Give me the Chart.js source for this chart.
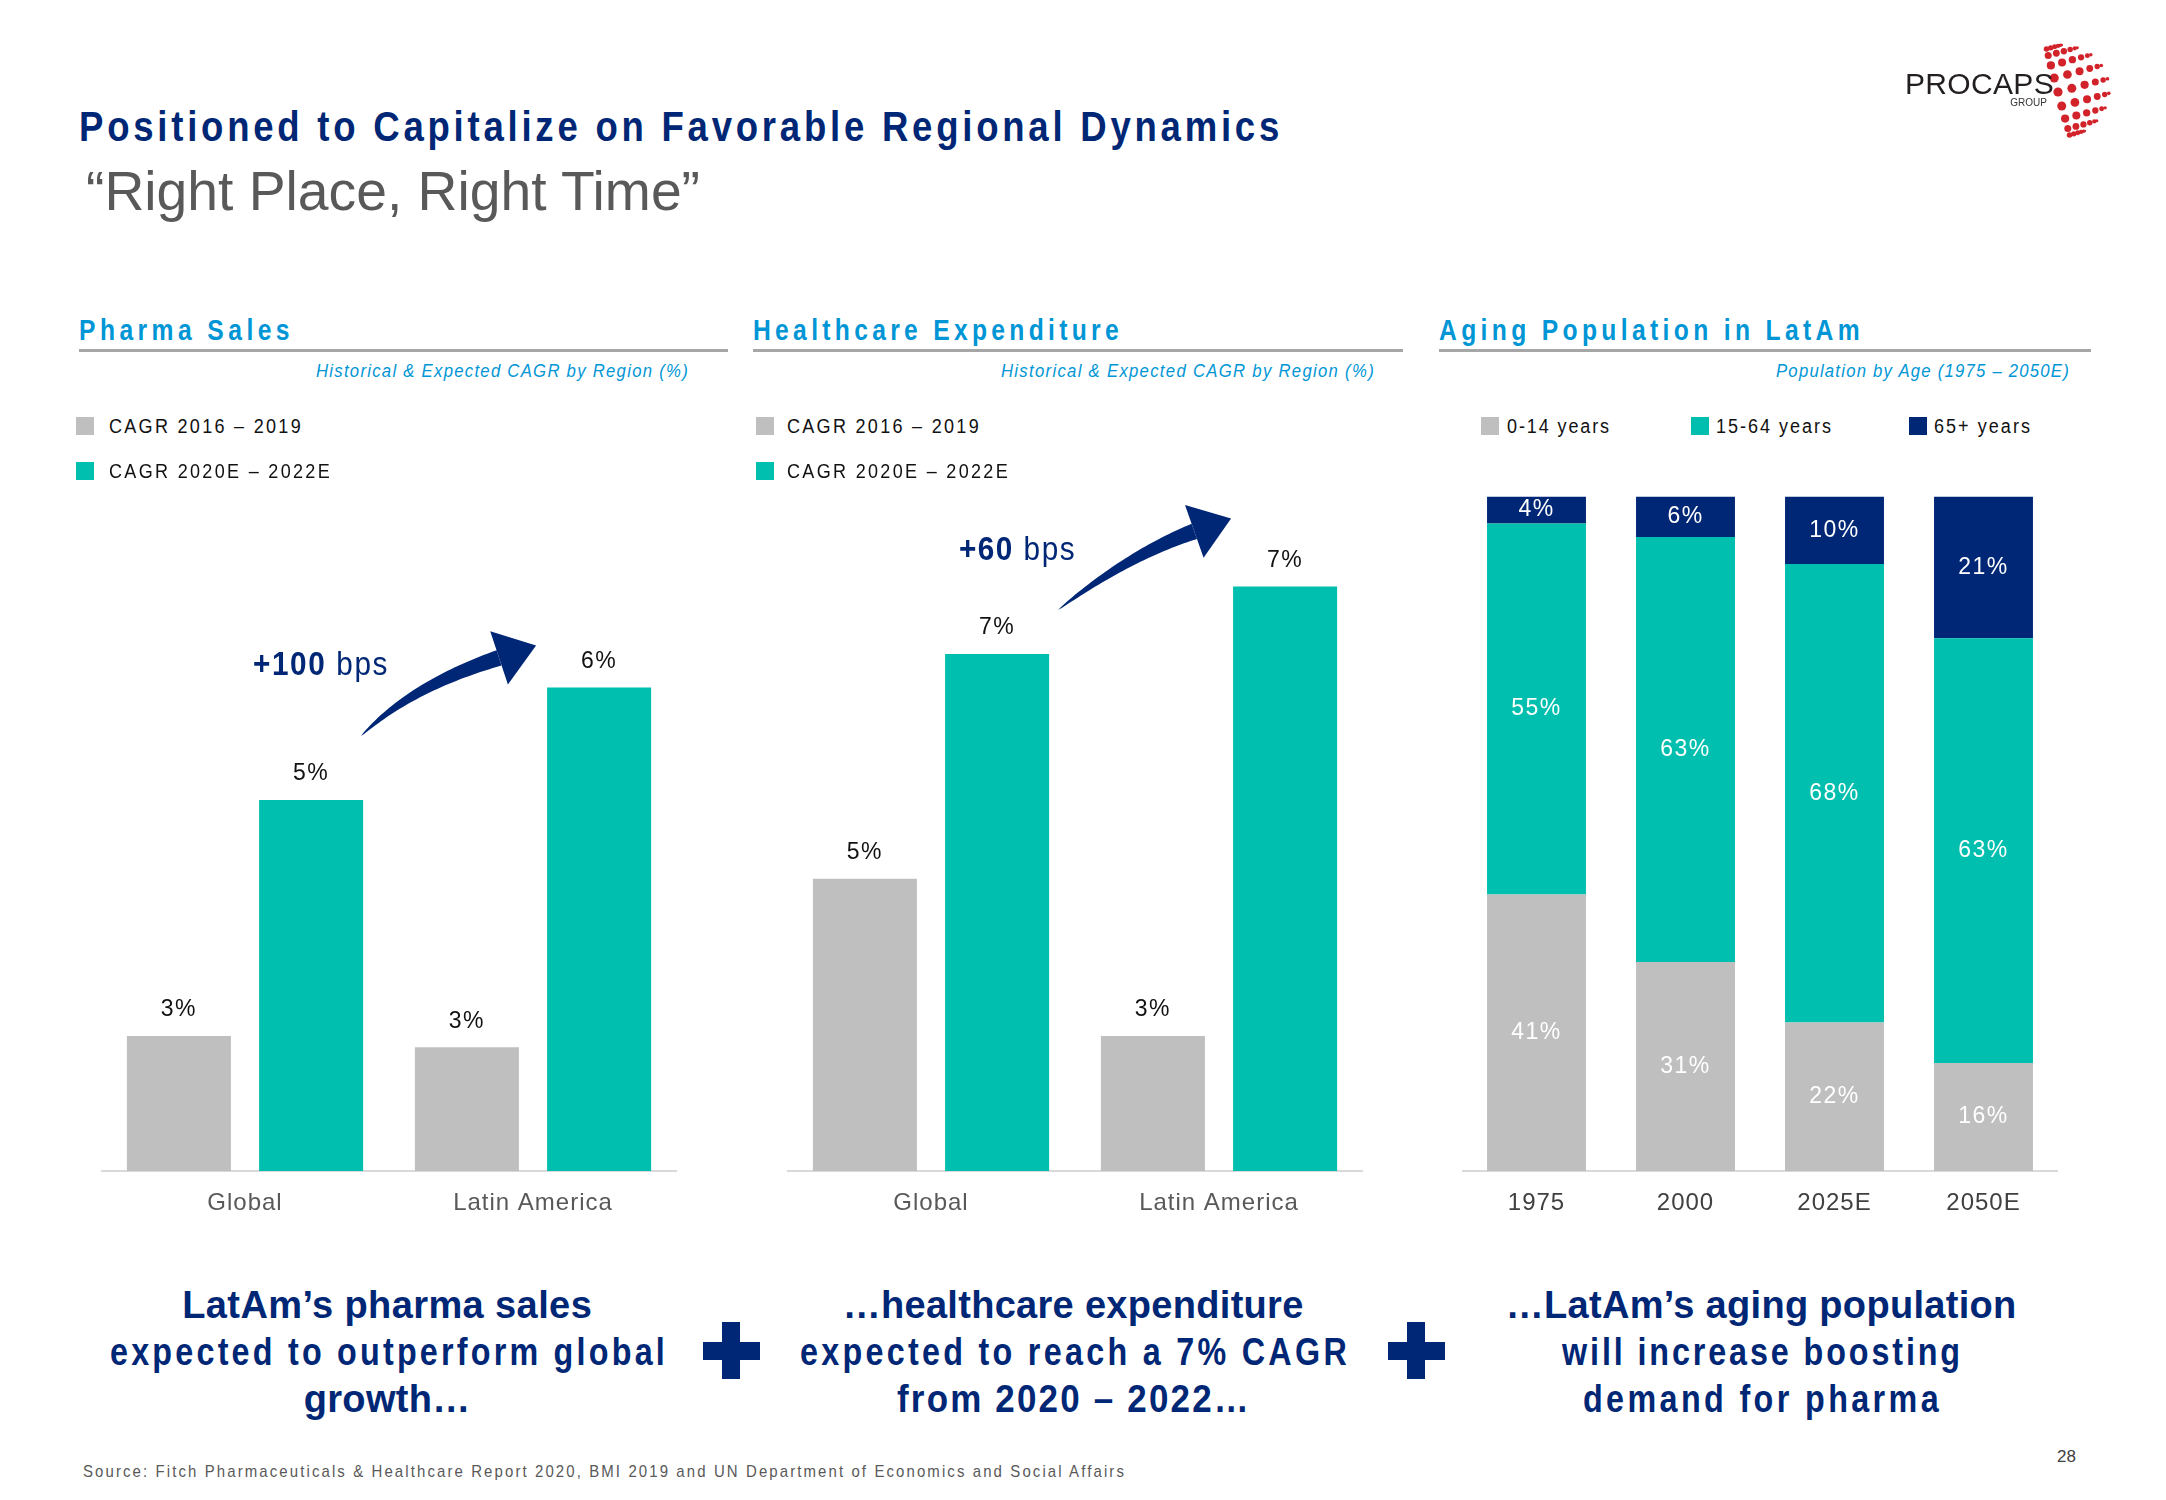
<!DOCTYPE html>
<html>
<head>
<meta charset="utf-8">
<script src="https://cdn.jsdelivr.net/npm/chart.js@4.4.1/dist/chart.umd.min.js"></script>
<style>
html, body { margin: 0; padding: 0; background: #fff; }
#slide { position: relative; width: 2166px; height: 1500px; overflow: hidden; }
canvas { position: absolute; }
.sq { position: absolute; width: 18px; height: 18px; }
.rule { position: absolute; height: 3px; background: #a6a6a6; }
.plus { position: absolute; background: #002776; }
</style>
</head>
<body>
<div id="slide">
  <canvas id="pharma" width="576" height="751" style="left:101px;top:480px"></canvas>
  <canvas id="health" width="576" height="751" style="left:787px;top:480px"></canvas>
  <canvas id="aging" width="596" height="751" style="left:1462px;top:480px"></canvas>
  <canvas id="logo" width="100" height="130" style="left:2020px;top:25px"></canvas>
</div>
<script>
// data
var regions = ['Global', 'Latin America'];
var cagrSeries = ['CAGR 2016 – 2019', 'CAGR 2020E – 2022E'];
var pharmaHist = [2.9, 2.8];
var pharmaExp = [5.0, 6.0];
var healthHist = [4.6, 3.2];
var healthExp = [6.6, 7.2];

var years = ['1975', '2000', '2025E', '2050E'];
var ageGroups = ['0-14 years', '15-64 years', '65+ years'];
var age0to14 = [41, 31, 22, 16];
var age15to64 = [55, 63, 68, 63];
var age65plus = [4, 6, 10, 21];

var FONT = "'Liberation Sans', Arial, sans-serif";
var GRAY = '#bfbfbf', TEAL = '#00bfae', NAVY = '#002776', BLUE = '#0096d6';

var slide = document.getElementById('slide');

// text placed by baseline; o.w = target width, o.c = horizontal squeeze (narrow font look)
function txt(s, x, base, size, o) {
  o = o || {};
  var d = document.createElement('div');
  if (o.html) d.innerHTML = s; else d.textContent = s;
  d.style.cssText = 'position:absolute;white-space:nowrap;line-height:1;font-family:' + FONT +
    ';font-size:' + size + 'px;font-weight:' + (o.bold ? 'bold' : 'normal') +
    ';font-style:' + (o.italic ? 'italic' : 'normal') + ';color:' + (o.color || '#111') +
    ';top:' + (base - 0.8465 * size) + 'px;left:0px;transform-origin:0 0';
  slide.appendChild(d);
  var w0 = d.getBoundingClientRect().width, n = d.textContent.length;
  var c = o.c || 1, sp = 0, w = w0;
  if (o.fit) { c = o.w / w0; w = o.w; }
  else if (o.w) {
    sp = (o.w - c * w0) / n;
    d.style.letterSpacing = (sp / c) + 'px';
    w = o.w;
  }
  if (c !== 1) d.style.transform = 'scaleX(' + c + ')';
  var left = x;
  if (o.align === 'c') left = x - w / 2 + sp / 2;
  if (o.align === 'r') left = x - w + sp;
  d.style.left = left + 'px';
  return d;
}
function box(cls, x, y, w, h, color) {
  var d = document.createElement('div');
  d.className = cls;
  d.style.left = x + 'px'; d.style.top = y + 'px';
  if (w) d.style.width = w + 'px';
  if (h) d.style.height = h + 'px';
  if (color) d.style.background = color;
  slide.appendChild(d);
}

// header
txt('Positioned to Capitalize on Favorable Regional Dynamics', 79, 141, 43, {bold: true, color: NAVY, w: 1204, c: 0.85});
txt('“Right Place, Right Time”', 86, 211, 55, {color: '#595959', w: 614, fit: true});

// section titles
txt('Pharma Sales', 79, 341, 29, {bold: true, color: BLUE, w: 215, c: 0.85});
txt('Healthcare Expenditure', 753, 341, 29, {bold: true, color: BLUE, w: 370, c: 0.85});
txt('Aging Population in LatAm', 1439, 341, 29, {bold: true, color: BLUE, w: 425, c: 0.85});
box('rule', 79, 349, 649);
box('rule', 753, 349, 650);
box('rule', 1439, 349, 652);
txt('Historical & Expected CAGR by Region (%)', 688, 377, 19, {italic: true, color: BLUE, w: 373, align: 'r', c: 0.88});
txt('Historical & Expected CAGR by Region (%)', 1374, 377, 19, {italic: true, color: BLUE, w: 374, align: 'r', c: 0.88});
txt('Population by Age (1975 – 2050E)', 2069, 377, 19, {italic: true, color: BLUE, w: 294, align: 'r', c: 0.88});

// legends
[[76, 109], [756, 787]].forEach(function (p) {
  box('sq', p[0], 417, 0, 0, GRAY);
  box('sq', p[0], 462, 0, 0, TEAL);
  txt(cagrSeries[0], p[1], 433, 20, {w: 194, c: 0.9});
  txt(cagrSeries[1], p[1], 478, 20, {w: 223, c: 0.9});
});
var ageLeg = [[1481, 1507, 104, GRAY], [1691, 1716, 117, TEAL], [1909, 1934, 98, NAVY]];
ageLeg.forEach(function (p, i) {
  box('sq', p[0], 417, 0, 0, p[3]);
  txt(ageGroups[i], p[1], 433, 20, {w: p[2], c: 0.9});
});

// bps call-outs
txt('<b>+100</b> bps', 253, 675, 33, {html: true, color: NAVY, w: 136, c: 0.9});
txt('<b>+60</b> bps', 959, 560, 33, {html: true, color: NAVY, w: 117, c: 0.9});

// bottom statements (second/third lines use the narrow, tracked look)
var blocks = [
  [387, ['LatAm’s pharma sales', 'expected to outperform global', 'growth…'], [410, 558, 167], [1, 0.85, 1]],
  [1073, ['…healthcare expenditure', 'expected to reach a 7% CAGR', 'from 2020 – 2022…'], [461, 550, 354], [1, 0.85, 0.92]],
  [1761, ['…LatAm’s aging population', 'will increase boosting', 'demand for pharma'], [511, 401, 359], [1, 0.85, 0.85]]
];
blocks.forEach(function (b) {
  b[1].forEach(function (line, i) {
    txt(line, b[0], 1318 + i * 47, 38, {bold: true, color: NAVY, w: b[2][i], align: 'c', c: b[3][i]});
  });
});
[731, 1416].forEach(function (cx) {
  box('plus', cx - 9, 1322, 18, 57);
  box('plus', cx - 28.5, 1341.5, 57, 18);
});

txt('Source: Fitch Pharmaceuticals & Healthcare Report 2020, BMI 2019 and UN Department of Economics and Social Affairs',
  83, 1477, 17, {color: '#595959', w: 1043, c: 0.88});
txt('28', 2076, 1462, 17, {color: '#404040', align: 'r'});

// logo
txt('PROCAPS', 1905, 94, 30, {color: '#231f20', w: 149});
txt('GROUP', 2047, 106, 10, {color: '#333', align: 'r'});
(function () {
  var c = document.getElementById('logo').getContext('2d');
  c.fillStyle = '#d2232a';
  var cx = 2058 - 2020, cy = 92 - 25, R = 52, rot = -15 * Math.PI / 180;
  for (var u = 0; u <= 80; u += 16) {
    for (var v = -72; v <= 72; v += 18) {
      var ur = u * Math.PI / 180, vr = v * Math.PI / 180;
      var px = R * Math.cos(vr) * Math.sin(ur), py = -R * 0.9 * Math.sin(vr);
      var x = cx + px * Math.cos(rot) - py * Math.sin(rot);
      var y = cy + px * Math.sin(rot) + py * Math.cos(rot);
      var r = 4.0 * Math.cos(ur * 0.9) * Math.cos(vr * 0.8) + 0.6;
      c.beginPath(); c.arc(x, y, r, 0, Math.PI * 2); c.fill();
    }
  }
})();

// chart plugins
var barLabels = {
  id: 'barLabels',
  beforeDraw: function (chart) { chart.ctx.letterSpacing = '1px'; },
  afterDatasetsDraw: function (chart, args, o) {
    var ctx = chart.ctx;
    ctx.save();
    ctx.font = '23px ' + FONT;
    ctx.letterSpacing = '1.5px';
    ctx.fillStyle = o.color;
    ctx.textAlign = 'center';
    ctx.textBaseline = 'middle';
    chart.data.datasets.forEach(function (ds, i) {
      chart.getDatasetMeta(i).data.forEach(function (bar, j) {
        var y = o.mid ? (bar.y + bar.base) / 2 : bar.y - 26;
        ctx.fillText(Math.round(ds.data[j]) + '%', bar.x, y);
      });
    });
    ctx.restore();
  }
};

var curvedArrow = {
  id: 'curvedArrow',
  afterDatasetsDraw: function (chart, args, o) {
    if (!o || !o.tail) return;
    var meta = chart.getDatasetMeta(1).data;
    var from = meta[0], to = meta[1];
    var T = {x: from.x + from.width / 2 + o.tail[0], y: from.y + o.tail[1]};
    var P = {x: to.x - to.width / 2 + o.tip[0], y: to.y + o.tip[1]};
    var a = o.angle * Math.PI / 180;
    var dir = {x: Math.cos(a), y: Math.sin(a)};
    var B = {x: P.x - dir.x * o.head, y: P.y - dir.y * o.head};
    var C = {x: T.x + o.ctrl[0], y: T.y + o.ctrl[1]};
    var up = [], lo = [];
    for (var i = 0; i <= 40; i++) {
      var t = i / 40;
      var x = (1 - t) * (1 - t) * T.x + 2 * (1 - t) * t * C.x + t * t * B.x;
      var y = (1 - t) * (1 - t) * T.y + 2 * (1 - t) * t * C.y + t * t * B.y;
      var dx = 2 * (1 - t) * (C.x - T.x) + 2 * t * (B.x - C.x);
      var dy = 2 * (1 - t) * (C.y - T.y) + 2 * t * (B.y - C.y);
      var len = Math.hypot(dx, dy);
      var nx = -dy / len, ny = dx / len;
      var w = o.width / 2 * Math.pow(t, 0.7);
      up.push([x + nx * w, y + ny * w]);
      lo.push([x - nx * w, y - ny * w]);
    }
    var ctx = chart.ctx;
    ctx.save();
    ctx.fillStyle = NAVY;
    ctx.beginPath();
    ctx.moveTo(up[0][0], up[0][1]);
    up.forEach(function (p) { ctx.lineTo(p[0], p[1]); });
    lo.reverse().forEach(function (p) { ctx.lineTo(p[0], p[1]); });
    ctx.closePath();
    ctx.fill();
    var n = {x: -dir.y, y: dir.x};
    ctx.beginPath();
    ctx.moveTo(B.x + n.x * o.half, B.y + n.y * o.half);
    ctx.lineTo(P.x, P.y);
    ctx.lineTo(B.x - n.x * o.half, B.y - n.y * o.half);
    ctx.closePath();
    ctx.fill();
    ctx.restore();
  }
};

function xAxis(color) {
  return {
    grid: {display: false, drawTicks: false},
    border: {display: true, color: '#d9d9d9', width: 2},
    ticks: {color: color, font: {family: FONT, size: 24}, padding: 18},
    afterFit: function (s) { s.height = 60; }
  };
}

// both CAGR charts: 6 units over the plot height, axis floor above zero
function cagrChart(id, hist, exp, yMin, yMax, arrow) {
  return new Chart(document.getElementById(id), {
    type: 'bar',
    data: {
      labels: regions,
      datasets: [
        {label: cagrSeries[0], data: hist, backgroundColor: GRAY, categoryPercentage: 0.918, barPercentage: 0.787},
        {label: cagrSeries[1], data: exp, backgroundColor: TEAL, categoryPercentage: 0.918, barPercentage: 0.787}
      ]
    },
    options: {
      responsive: false,
      animation: false,
      devicePixelRatio: 1,
      layout: {padding: {top: 16.5, left: 0, right: 0, bottom: 0}},
      plugins: {
        legend: {display: false},
        tooltip: {enabled: false},
        barLabels: {color: '#111', mid: false},
        curvedArrow: arrow
      },
      scales: {
        x: xAxis('#595959'),
        y: {display: false, min: yMin, max: yMax}
      }
    },
    plugins: [barLabels, curvedArrow]
  });
}

cagrChart('pharma', pharmaHist, pharmaExp, 1.7, 7.7,
  {tail: [-2, -64], tip: [-11, -42], angle: -18.4, head: 39, half: 28, width: 16, ctrl: [50, -50]});
cagrChart('health', healthHist, healthExp, 2.0, 8.0,
  {tail: [9, -44], tip: [-2, -68], angle: -19.4, head: 39, half: 28, width: 16, ctrl: [71, -55]});

new Chart(document.getElementById('aging'), {
  type: 'bar',
  data: {
    labels: years,
    datasets: [
      {label: ageGroups[0], data: age0to14, backgroundColor: GRAY, categoryPercentage: 0.83, barPercentage: 0.8},
      {label: ageGroups[1], data: age15to64, backgroundColor: TEAL, categoryPercentage: 0.83, barPercentage: 0.8},
      {label: ageGroups[2], data: age65plus, backgroundColor: NAVY, categoryPercentage: 0.83, barPercentage: 0.8}
    ]
  },
  options: {
    responsive: false,
    animation: false,
    devicePixelRatio: 1,
    layout: {padding: {top: 16.5, left: 0, right: 0, bottom: 0}},
    plugins: {
      legend: {display: false},
      tooltip: {enabled: false},
      barLabels: {color: '#ffffff', mid: true}
    },
    scales: {
      x: Object.assign(xAxis('#404040'), {stacked: true}),
      y: {display: false, stacked: true, min: 0, max: 100}
    }
  },
  plugins: [barLabels]
});
</script>
</body>
</html>
